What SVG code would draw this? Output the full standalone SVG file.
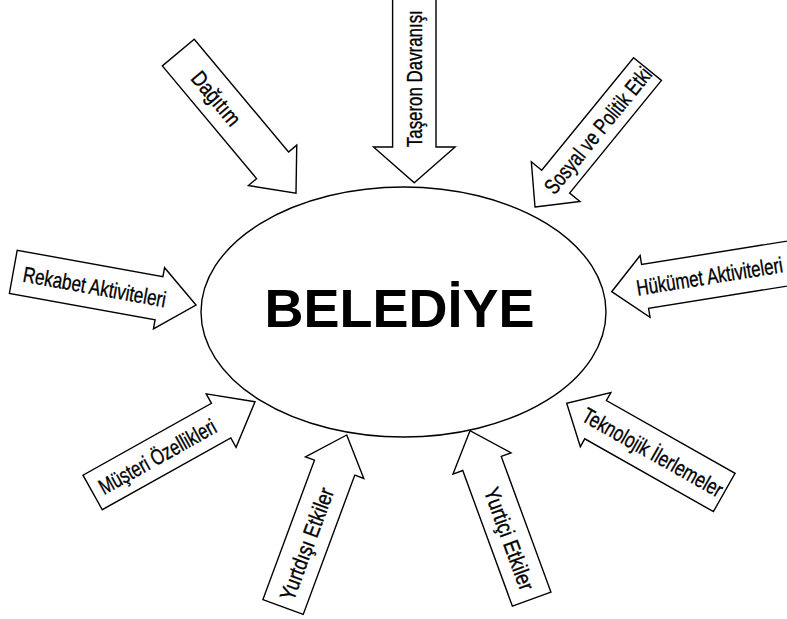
<svg xmlns="http://www.w3.org/2000/svg" width="787" height="619" viewBox="0 0 787 619">
  <style>
    .arrow { fill: #ffffff; stroke: #000000; stroke-width: 1.4; stroke-linejoin: miter; }
    .lbl { font-family: "Liberation Sans Narrow", "Liberation Sans", Arial, sans-serif; font-size: 22px; fill: #000000; stroke: #000000; stroke-width: 0.35; text-anchor: middle; }
    .hub { fill: #ffffff; stroke: #000000; stroke-width: 1.4; }
    .hubtext { font-family: "Liberation Sans", Arial, sans-serif; font-size: 54px; font-weight: bold; fill: #000000; text-anchor: middle; }
  </style>
  <rect width="787" height="619" fill="#ffffff"/>

  <!-- central node -->
  <g id="belediye">
    <ellipse class="hub" cx="403.5" cy="312" rx="202.5" ry="125"/>
    <text class="hubtext" x="399.5" y="327">BELEDİYE</text>
  </g>

  <!-- block arrows pointing at the central node; each is drawn along +x with its tip at the origin -->
  <g id="connectors">
    <g id="arrow-dagitim" transform="translate(296,193.3) rotate(50.1)">
      <polygon class="arrow" points="0,0 -36.5,-31.5 -36.5,-20.8 -183.5,-20.8 -183.5,20.8 -36.5,20.8 -36.5,31.5"/>
      <text class="lbl" x="-124" y="8" textLength="64" lengthAdjust="spacingAndGlyphs">Dağıtım</text>
    </g>

    <g id="arrow-taseron" transform="translate(414.3,182.7) rotate(90)">
      <polygon class="arrow" points="0,0 -35.7,-40.8 -35.7,-21.7 -195,-21.7 -195,21.7 -35.7,21.7 -35.7,40.8"/>
      <text class="lbl" transform="translate(-104,0) rotate(180)" x="0" y="8" textLength="137" lengthAdjust="spacingAndGlyphs">Taşeron Davranışı</text>
    </g>

    <g id="arrow-sosyal" transform="translate(535,207) rotate(129.2)">
      <polygon class="arrow" points="0,0 -32.7,-31.4 -32.7,-18 -178,-18 -178,18 -32.7,18 -32.7,31.4"/>
      <text class="lbl" transform="translate(-99,0) rotate(180)" x="0" y="8" textLength="156" lengthAdjust="spacingAndGlyphs">Sosyal ve Politik Etki</text>
    </g>

    <g id="arrow-rekabet" transform="translate(196,305) rotate(10.3)">
      <polygon class="arrow" points="0,0 -37.6,-31.1 -37.6,-21.9 -185.7,-21.9 -185.7,21.9 -37.6,21.9 -37.6,31.1"/>
      <text class="lbl" x="-103" y="8" textLength="145" lengthAdjust="spacingAndGlyphs">Rekabet Aktiviteleri</text>
    </g>

    <g id="arrow-hukumet" transform="translate(611.7,291.7) rotate(170.9)">
      <polygon class="arrow" points="0,0 -33.8,-31.3 -33.8,-22.2 -195,-22.2 -195,22.2 -33.8,22.2 -33.8,31.3"/>
      <text class="lbl" transform="translate(-99,0) rotate(180)" x="0" y="8" textLength="148" lengthAdjust="spacingAndGlyphs">Hükümet Aktiviteleri</text>
    </g>

    <g id="arrow-musteri" transform="translate(255,401.7) rotate(-29.2)">
      <polygon class="arrow" points="0,0 -38.8,-30.6 -38.8,-19.8 -186,-19.8 -186,19.8 -38.8,19.8 -38.8,30.6"/>
      <text class="lbl" x="-112" y="8" textLength="131" lengthAdjust="spacingAndGlyphs">Müşteri Özellikleri</text>
    </g>

    <g id="arrow-yurtdisi" transform="translate(346.7,435) rotate(-69.7)">
      <polygon class="arrow" points="0,0 -34.8,-31.1 -34.8,-21.5 -183.4,-21.5 -183.4,21.5 -34.8,21.5 -34.8,31.1"/>
      <text class="lbl" x="-116" y="8" textLength="118" lengthAdjust="spacingAndGlyphs">Yurtdışı Etkiler</text>
    </g>

    <g id="arrow-yurtici" transform="translate(470,430.7) rotate(-110.1)">
      <polygon class="arrow" points="0,0 -34.9,-30.9 -34.9,-20.5 -179.4,-20.5 -179.4,20.5 -34.9,20.5 -34.9,30.9"/>
      <text class="lbl" transform="translate(-115,0) rotate(180)" x="0" y="8" textLength="108" lengthAdjust="spacingAndGlyphs">Yurtiçi Etkiler</text>
    </g>

    <g id="arrow-teknoloji" transform="translate(566.7,403.3) rotate(-150.5)">
      <polygon class="arrow" points="0,0 -33.2,-31 -33.2,-22 -181,-22 -181,22 -33.2,22 -33.2,31"/>
      <text class="lbl" transform="translate(-99,0) rotate(180)" x="0" y="8" textLength="158" lengthAdjust="spacingAndGlyphs">Teknolojik İlerlemeler</text>
    </g>
  </g>
</svg>
